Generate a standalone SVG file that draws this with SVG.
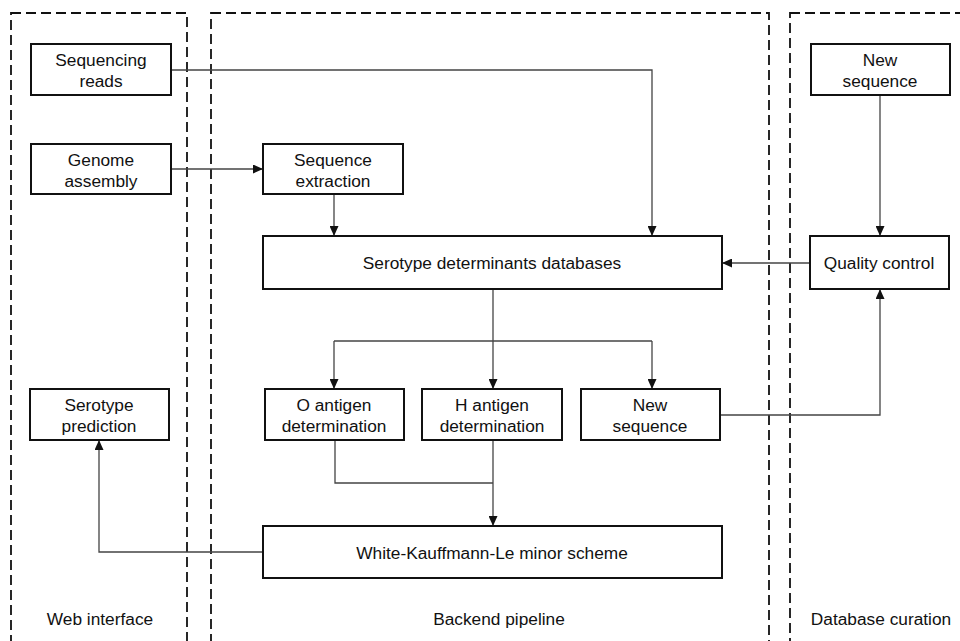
<svg xmlns="http://www.w3.org/2000/svg" width="960" height="641" viewBox="0 0 960 641">
<defs>
<style>
.panel{fill:none;stroke:#111;stroke-width:1.8;stroke-dasharray:10,5}
.box{fill:#fff;stroke:#111;stroke-width:2}
.t{font-family:"Liberation Sans",Arial,sans-serif;font-size:17.3px;fill:#111;text-anchor:middle}
.c{fill:none;stroke:#444;stroke-width:1.3}
</style>
<marker id="arr" markerUnits="userSpaceOnUse" markerWidth="10" markerHeight="9" refX="10" refY="4.5" orient="auto">
<path d="M0,0 L10,4.5 L0,9 z" fill="#111"/>
</marker>
</defs>
<rect width="960" height="641" fill="#fff"/>
<g id="panels">
<rect class="panel" x="11" y="13" width="176" height="650"/>
<rect class="panel" x="211" y="13" width="558" height="650"/>
<rect class="panel" x="790" y="13" width="200" height="650"/>
<text class="t" x="100" y="625">Web interface</text>
<text class="t" x="499" y="625">Backend pipeline</text>
<text class="t" x="881" y="625">Database curation</text>
</g>
<g id="connectors">
<path class="c" d="M171,70 H652 V236" marker-end="url(#arr)"/>
<path class="c" d="M171,169 H263" marker-end="url(#arr)"/>
<path class="c" d="M334,194 V236" marker-end="url(#arr)"/>
<path class="c" d="M880,95 V236" marker-end="url(#arr)"/>
<path class="c" d="M810,263 H722" marker-end="url(#arr)"/>
<path class="c" d="M493,289 V341"/>
<path class="c" d="M334,341 H652"/>
<path class="c" d="M334,341 V389" marker-end="url(#arr)"/>
<path class="c" d="M493,341 V389" marker-end="url(#arr)"/>
<path class="c" d="M652,341 V389" marker-end="url(#arr)"/>
<path class="c" d="M335,440 V483 H493"/>
<path class="c" d="M493,440 V526" marker-end="url(#arr)"/>
<path class="c" d="M720,415 H880 V289" marker-end="url(#arr)"/>
<path class="c" d="M263,552 H99 V440" marker-end="url(#arr)"/>
</g>
<g id="sequencing-reads">
<rect class="box" x="31" y="44" width="140" height="51"/>
<text class="t" x="101" y="66">Sequencing</text>
<text class="t" x="101" y="87">reads</text>
</g>
<g id="genome-assembly">
<rect class="box" x="31" y="144" width="140" height="50"/>
<text class="t" x="101" y="166">Genome</text>
<text class="t" x="101" y="187">assembly</text>
</g>
<g id="sequence-extraction">
<rect class="box" x="263" y="144" width="140" height="50"/>
<text class="t" x="333" y="166">Sequence</text>
<text class="t" x="333" y="187">extraction</text>
</g>
<g id="serotype-determinants-databases">
<rect class="box" x="263" y="236" width="459" height="53"/>
<text class="t" x="492" y="269">Serotype determinants databases</text>
</g>
<g id="new-sequence-top">
<rect class="box" x="811" y="44" width="139" height="51"/>
<text class="t" x="880" y="66">New</text>
<text class="t" x="880" y="87">sequence</text>
</g>
<g id="quality-control">
<rect class="box" x="810" y="236" width="139" height="53"/>
<text class="t" x="879" y="269">Quality control</text>
</g>
<g id="o-antigen">
<rect class="box" x="265" y="389" width="139" height="51"/>
<text class="t" x="334" y="411">O antigen</text>
<text class="t" x="334" y="432">determination</text>
</g>
<g id="h-antigen">
<rect class="box" x="422" y="389" width="140" height="51"/>
<text class="t" x="492" y="411">H antigen</text>
<text class="t" x="492" y="432">determination</text>
</g>
<g id="new-sequence-mid">
<rect class="box" x="581" y="389" width="139" height="51"/>
<text class="t" x="650" y="411">New</text>
<text class="t" x="650" y="432">sequence</text>
</g>
<g id="serotype-prediction">
<rect class="box" x="30" y="389" width="139" height="51"/>
<text class="t" x="99" y="411">Serotype</text>
<text class="t" x="99" y="432">prediction</text>
</g>
<g id="wk-scheme">
<rect class="box" x="263" y="526" width="459" height="52"/>
<text class="t" x="492" y="559">White-Kauffmann-Le minor scheme</text>
</g>
</svg>
